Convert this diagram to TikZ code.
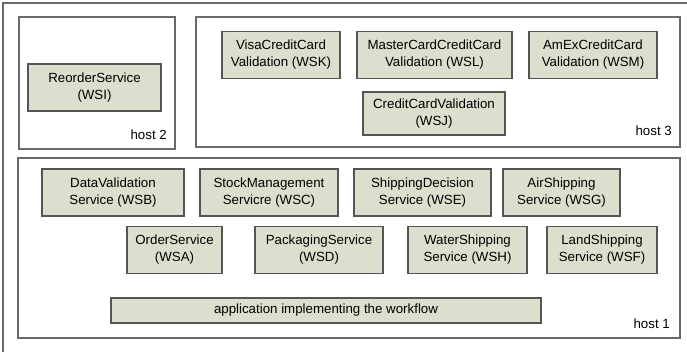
\documentclass[tikz,border=0pt]{standalone}
\usepackage{fontspec}
\setmainfont{Liberation Sans}
\usepackage{tikz}
\usetikzlibrary{positioning}
\definecolor{svcfill}{RGB}{222,222,207}
\definecolor{svcline}{RGB}{85,85,85}
\definecolor{hostline}{RGB}{105,105,105}

\begin{document}
\begin{tikzpicture}[x=1pt,y=-1pt,
  box/.style={draw=svcline,line width=1.3pt,fill=svcfill,align=center,
              inner sep=1pt,minimum height=47pt,
              font=\fontsize{13.3}{17}\selectfont},
  host/.style={draw=hostline,line width=1.3pt},
  hostlabel/.style={anchor=south east,inner sep=2pt,
              font=\fontsize{13.3}{17}\selectfont}]
  \useasboundingbox (0,0) rectangle (687,351);
  % frame
  \draw[hostline,line width=1.2pt] (3,355) -- (3,3) -- (690,3);
  % host 2
  \draw[host] (19,17) rectangle (175,149);
  \node[hostlabel] (h2) at (169,142) {host 2};
  \node[box,minimum width=133pt] (wsi) at (94.5,87.5) {ReorderService\\(WSI)};
  % host 3
  \draw[host] (196,17) rectangle (680,147);
  \node[hostlabel] (h3) at (674,138) {host 3};
  \node[box,minimum width=118pt] (wsk) at (281,55) {VisaCreditCard\\Validation (WSK)};
  \node[box,minimum width=155pt] (wsl) at (434.5,55) {MasterCardCreditCard\\Validation (WSL)};
  \node[box,minimum width=128pt] (wsm) at (593,55) {AmExCreditCard\\Validation (WSM)};
  \node[box,minimum width=142pt,minimum height=43pt] (wsj) at (434,113.5) {CreditCardValidation\\(WSJ)};
  % host 1
  \draw[host] (18,158) rectangle (680,338);
  \node[hostlabel] (h1) at (672,331) {host 1};
  \node[box,minimum width=142pt] (wsb) at (113,192.5) {DataValidation\\Service (WSB)};
  \node[box,minimum width=138pt] (wsc) at (269,192.5) {StockManagement\\Servicre (WSC)};
  \node[box,minimum width=137pt] (wse) at (422.5,192.5) {ShippingDecision\\Service (WSE)};
  \node[box,minimum width=117pt] (wsg) at (561.5,192.5) {AirShipping\\Service (WSG)};
  \node[box,minimum width=95pt] (wsa) at (174.5,250) {OrderService\\(WSA)};
  \node[box,minimum width=128pt] (wsd) at (319,250) {PackagingService\\(WSD)};
  \node[box,minimum width=119pt] (wsh) at (467.5,250) {WaterShipping\\Service (WSH)};
  \node[box,minimum width=110pt] (wsf) at (602,250) {LandShipping\\Service (WSF)};
  \node[box,minimum width=430pt,minimum height=25pt] (app) at (326,310.5) {application implementing the workflow};
\end{tikzpicture}
\end{document}
